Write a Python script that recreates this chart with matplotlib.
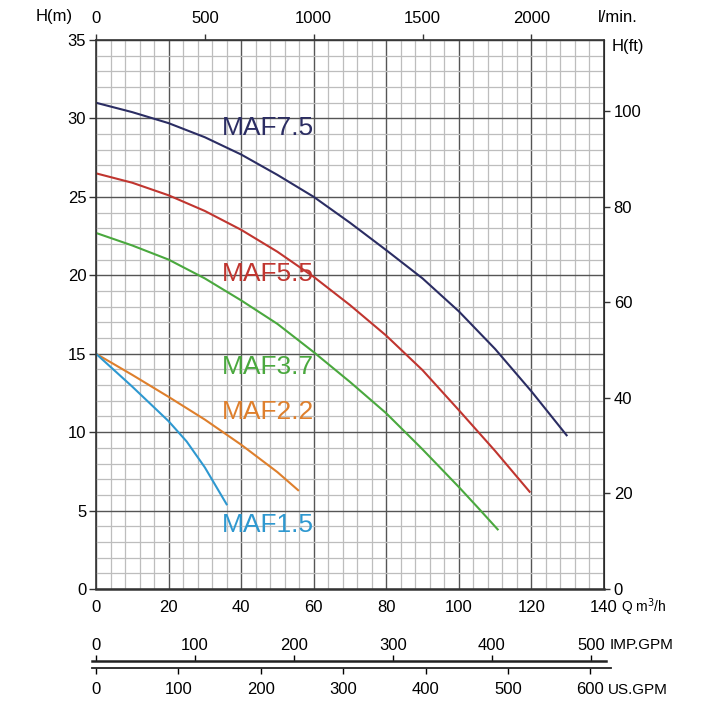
import numpy as np
import matplotlib
matplotlib.use('Agg')
from matplotlib import pyplot as plt
from matplotlib.ticker import MultipleLocator

plt.rcParams['font.family'] = ['Liberation Sans', 'DejaVu Sans']

# pump curves: flow Q (m3/h) vs head H (m)
maf75_q = [0, 10, 20, 30, 40, 50, 60, 70, 80, 90, 100, 110, 120, 129.7]
maf75_h = [31.0, 30.4, 29.7, 28.8, 27.7, 26.4, 25.0, 23.35, 21.6, 19.8, 17.7, 15.3, 12.6, 9.8]
maf55_q = [0, 10, 20, 30, 40, 50, 60, 70, 80, 90, 100, 110, 119.5]
maf55_h = [26.5, 25.9, 25.1, 24.1, 22.9, 21.5, 19.9, 18.1, 16.15, 13.95, 11.4, 8.8, 6.2]
maf37_q = [0, 10, 20, 30, 40, 50, 60, 70, 80, 90, 100, 105.2, 110.7]
maf37_h = [22.7, 21.9, 21.0, 19.8, 18.4, 16.9, 15.1, 13.2, 11.2, 8.9, 6.5, 5.2, 3.8]
maf22_q = [0, 10, 20, 30, 40, 50, 55.7]
maf22_h = [15.0, 13.65, 12.25, 10.8, 9.2, 7.45, 6.3]
maf15_q = [0, 5, 10, 15, 20, 25, 30, 36]
maf15_h = [15.0, 13.95, 12.9, 11.8, 10.7, 9.4, 7.75, 5.4]

names = ['MAF7.5', 'MAF5.5', 'MAF3.7', 'MAF2.2', 'MAF1.5']
colors = ['#2b2d63', '#c0352f', '#4aa83e', '#de7f2c', '#2e98d0']
label_pos = [(34.7, 29.4), (34.7, 20.1), (34.7, 14.15), (34.7, 11.3), (34.7, 4.1)]

q_series = [maf75_q, maf55_q, maf37_q, maf22_q, maf15_q]
h_series = [maf75_h, maf55_h, maf37_h, maf22_h, maf15_h]

imp_ticks = [0, 100, 200, 300, 400, 500]
us_ticks = [0, 100, 200, 300, 400, 500, 600]
IMP = 0.27277  # m3/h per imp gpm
USG = 0.22712  # m3/h per us gpm

fig = plt.figure(figsize=(7.2, 7.2), dpi=100)
W, H = 720.0, 720.0
x0, x1, y0, y1 = 96, 604, 40, 589
ax = fig.add_axes([x0 / W, 1 - y1 / H, (x1 - x0) / W, (y1 - y0) / H])

ax.set_xlim(0, 140)
ax.set_ylim(0, 35)
ax.xaxis.set_major_locator(MultipleLocator(20))
ax.xaxis.set_minor_locator(MultipleLocator(4))
ax.yaxis.set_major_locator(MultipleLocator(5))
ax.yaxis.set_minor_locator(MultipleLocator(1))
ax.grid(which='major', color='#555555', lw=1.0)
ax.grid(which='minor', color='#bdbdbd', lw=0.9)
ax.set_axisbelow(True)
ax.tick_params(which='minor', length=0)
ax.tick_params(axis='y', which='major', length=5, width=1, labelsize=12, pad=2, color='#333')
ax.tick_params(axis='x', which='major', length=0, labelsize=12, pad=8)
for s in ax.spines.values():
    s.set_color('#333')
    s.set_linewidth(1.2)
ax.spines['bottom'].set_linewidth(1.8)

for q, h, c, n, p in zip(q_series, h_series, colors, names, label_pos):
    ax.plot(q, h, color=c, lw=1.5, solid_joinstyle='round')
    ax.text(p[0], p[1], n, color=c, fontsize=19, va='center', ha='left')

top = ax.secondary_xaxis('top', functions=(lambda q: q * 1000 / 60, lambda l: l * 60 / 1000))
top.set_xticks([0, 500, 1000, 1500, 2000])
top.tick_params(length=4, width=1, labelsize=12, pad=6, color='#333')

right = ax.secondary_yaxis('right', functions=(lambda m: m / 0.3048, lambda f: f * 0.3048))
right.set_yticks([0, 20, 40, 60, 80, 100])
right.tick_params(length=4, width=1, labelsize=12, pad=3, color='#333')

fig.text(36 / W, 1 - 16 / H, 'H(m)', fontsize=12, va='center', ha='left')
fig.text(598 / W, 1 - 18 / H, 'l/min.', fontsize=12, va='center', ha='left')
fig.text(612 / W, 1 - 46 / H, 'H(ft)', fontsize=12, va='center', ha='left')
fig.text(621 / W, 1 - 607 / H, 'Q m$^3$/h', fontsize=10, va='center', ha='left')

# extra flow scales under the chart
k = (x1 - x0) / 140.0

imp_ax = fig.add_axes([92 / W, 1 - 661 / H, (606 - 92) / W, 0.001])
imp_ax.set_xlim((92 - x0) / k / IMP, (606 - x0) / k / IMP)
imp_ax.set_yticks([])
for s in ['left', 'right', 'top']:
    imp_ax.spines[s].set_visible(False)
imp_ax.spines['bottom'].set_linewidth(1.8)
imp_ax.spines['bottom'].set_color('#222')
imp_ax.set_xticks(imp_ticks)
imp_ax.tick_params(axis='x', direction='in', length=4, width=1, labelbottom=False)
for t in imp_ticks:
    fig.text((x0 + t * IMP * k) / W, 1 - 645 / H, str(t), ha='center', va='center', fontsize=12)

us_ax = fig.add_axes([92 / W, 1 - 669 / H, (611 - 92) / W, 0.001])
us_ax.set_xlim((92 - x0) / k / USG, (611 - x0) / k / USG)
us_ax.set_yticks([])
for s in ['left', 'right', 'bottom']:
    us_ax.spines[s].set_visible(False)
us_ax.spines['top'].set_linewidth(1.3)
us_ax.spines['top'].set_color('#222')
us_ax.xaxis.tick_top()
us_ax.set_xticks(us_ticks)
us_ax.tick_params(axis='x', direction='in', length=4, width=1, labeltop=False)
for t in us_ticks:
    fig.text((x0 + t * USG * k) / W, 1 - 690 / H, str(t), ha='center', va='center', fontsize=12)

fig.text(610 / W, 1 - 645 / H, 'IMP.GPM', fontsize=11, va='center', ha='left')
fig.text(608 / W, 1 - 690 / H, 'US.GPM', fontsize=11, va='center', ha='left')

fig.savefig('out.png', dpi=100)
